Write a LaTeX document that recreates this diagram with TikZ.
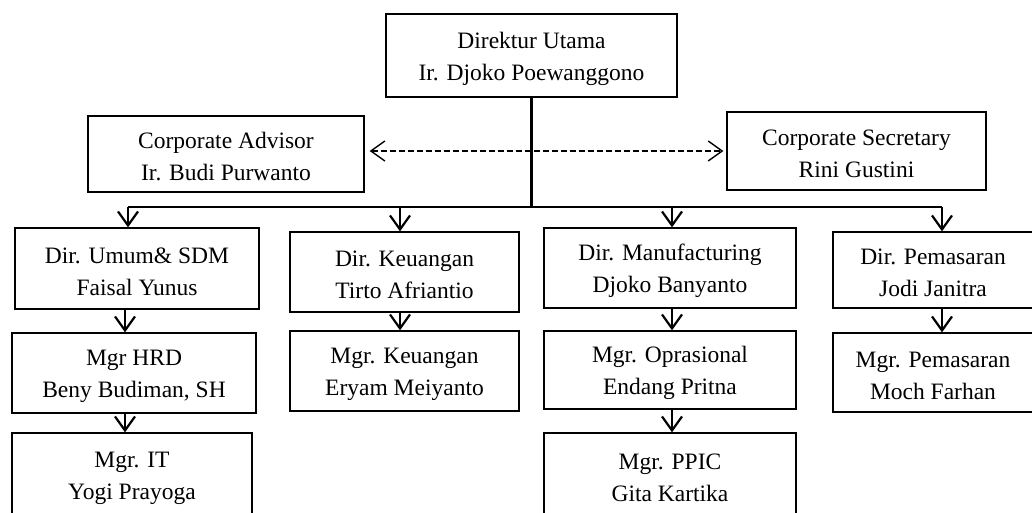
\documentclass[tikz,border=0pt]{standalone}
\usepackage{fontspec}
\setmainfont{Liberation Serif}
\usetikzlibrary{arrows.meta,calc}
\newcommand{\obox}[5]{%
  \node[box,minimum width=#3,minimum height=#4] (#1) at #2 {};
  \node[txt] (#1-t) at ($(#1)+(0,3)$) {#5};}
\begin{document}
\begin{tikzpicture}[x=1pt,y=-1pt,
  box/.style={draw=black,line width=1.3pt,inner sep=0pt},
  txt/.style={inner sep=0pt,align=center,font=\fontsize{23.5}{32}\selectfont},
  conn/.style={draw=black,line width=2.2pt},
  arr/.style={conn,-{Straight Barb[length=14pt,width=20pt]}},
  dasharr/.style={draw=black,line width=1.4pt,dash pattern=on 6pt off 3pt,
    {Straight Barb[length=14pt,width=20pt]}-{Straight Barb[length=14pt,width=20pt]},
    shorten <=5pt, shorten >=3pt}]
\fill[white] (0,0) rectangle (1032,513);
\useasboundingbox (0,0) rectangle (1032,513);

\obox{top}{(531.5,55.5)}{291pt}{83pt}{Direktur Utama\\Ir. Djoko Poewanggono}
\obox{ca}{(226,154)}{276pt}{76pt}{Corporate Advisor\\Ir. Budi Purwanto}
\obox{cs}{(856.5,151)}{259pt}{78pt}{Corporate Secretary\\Rini Gustini}

\obox{du}{(137,268.5)}{244pt}{81pt}{Dir. Umum\& SDM\\Faisal Yunus}
\obox{dk}{(404.5,272)}{229pt}{80pt}{Dir. Keuangan\\Tirto Afriantio}
\obox{dm}{(670,268)}{252pt}{80pt}{Dir. Manufacturing\\Djoko Banyanto}
\node[box,minimum width=204pt,minimum height=76pt] (dp) at (935,270) {};
\node[txt] (dp-t) at ($(dp)+(-2,3)$) {Dir. Pemasaran\\Jodi Janitra};

\obox{mh}{(134,373)}{244pt}{80pt}{Mgr HRD\\Beny Budiman, SH}
\obox{mk}{(404.5,371)}{229pt}{80pt}{Mgr. Keuangan\\Eryam Meiyanto}
\obox{mo}{(670,370)}{252pt}{78pt}{Mgr. Oprasional\\Endang Pritna}
\node[box,minimum width=204pt,minimum height=79pt] (mp) at (935,372.5) {};
\node[txt] (mp-t) at ($(mp)+(-2,3)$) {Mgr. Pemasaran\\Moch Farhan};

\obox{mi}{(132,475)}{240pt}{84pt}{Mgr. IT\\Yogi Prayoga}
\obox{mpp}{(670,475)}{252pt}{84pt}{Mgr. PPIC\\Gita Kartika}

\coordinate (c1) at (128,207);
\coordinate (c2) at (400,207);
\coordinate (c3) at (672,207);
\coordinate (c4) at (942,207);
\coordinate (c0) at (125,207);

\draw[conn] (top.south) -- (top.south |- c1);
\draw[conn] (c1) -- (c4);
\draw[arr] (c1) -- (c1 |- du.north);
\draw[arr] (c2) -- (c2 |- dk.north);
\draw[arr] (c3) -- (c3 |- dm.north);
\draw[arr] (c4) -- (c4 |- dp.north);

\draw[arr] (du.south -| c0) -- (mh.north -| c0);
\draw[arr] (mh.south -| c0) -- (mi.north -| c0);
\draw[arr] (dk.south -| c2) -- (mk.north -| c2);
\draw[arr] (dm.south -| c3) -- (mo.north -| c3);
\draw[arr] (mo.south -| c3) -- (mpp.north -| c3);
\draw[arr] (dp.south -| c4) -- (mp.north -| c4);

\draw[dasharr] (cs.west -| ca.east) -- (cs.west);
\end{tikzpicture}
\end{document}
